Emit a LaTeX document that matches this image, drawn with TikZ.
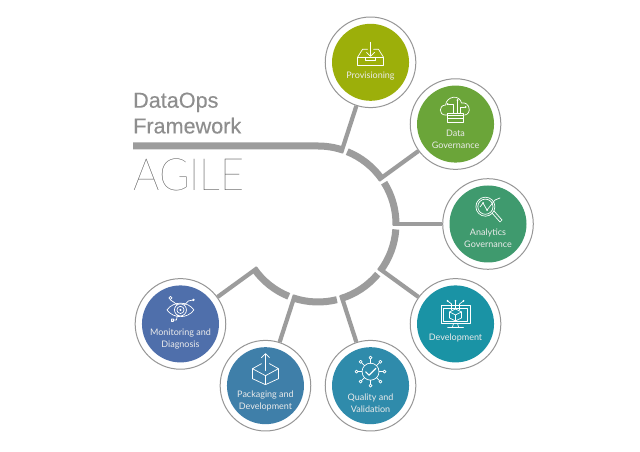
\documentclass[tikz,border=0pt]{standalone}
\usepackage{fontspec}
\setmainfont{Lato}
\newfontfamily\headfont[FakeBold=0.25]{Liberation Sans}
\newfontfamily\agilefont{Lato Hairline}
\newfontfamily\labelfont{Lato}
\usetikzlibrary{calc}
\definecolor{barcol}{HTML}{9C9C9C}
\definecolor{ringcol}{HTML}{969696}
\definecolor{headcol}{HTML}{8E8E8E}
\definecolor{colA}{HTML}{9CAF0A}
\definecolor{colB}{HTML}{6BA539}
\definecolor{colC}{HTML}{3F9A6E}
\definecolor{colD}{HTML}{1A93A5}
\definecolor{colE}{HTML}{2F8BAB}
\definecolor{colF}{HTML}{3F7FA9}
\definecolor{colG}{HTML}{4F6FAB}
\tikzset{
  arcline/.style={draw=barcol,line width=7pt},
  spoke/.style={draw=barcol,line width=4.2pt},
  ring/.style={circle,draw=ringcol,line width=1pt,fill=white,minimum size=90.6pt,inner sep=0pt},
  disc/.style={circle,fill=#1,minimum size=77pt,inner sep=0pt},
  stationtext/.style={text=white!92!black,font=\labelfont\fontsize{9}{11.6}\selectfont,align=center,inner sep=0pt},
  iconline/.style={draw=white,line width=0.7pt,line join=round,line cap=round,fill=none},
  head/.style={text=headcol,font=\headfont\fontsize{21.6}{25}\selectfont,anchor=base west,inner sep=0pt},
  iconprov/.pic={
    \draw[iconline] (-13,-3) rectangle (13,5);
    \draw[iconline] (-13,5) -- (-8,13) -- (-3,13) (13,5) -- (8,13) -- (3,13);
    \draw[iconline] (-5,5) -- (-5,1.5) -- (5,1.5) -- (5,5);
    \draw[iconline] (0,20) -- (0,6) (-4,10) -- (0,6) -- (4,10);
  },
  icongov/.pic={
    \draw[iconline] (-8,9) -- (-10,9) .. controls (-17,9) and (-17,19) .. (-10,19) .. controls (-9,28) and (4,30) .. (6,21) .. controls (14,23) and (17,10) .. (9,9);
    \draw[iconline] (-8,2) rectangle (8,5.5) (-8,5.5) rectangle (8,9) (-8,9) rectangle (8,11);
    \draw[iconline] (-2,11) -- (-2,20) -- (-7,20) (2,11) -- (2,23) (5,11) -- (5,17) -- (9,17);
    \fill[white] (-8,20) circle (1.1) (2,24) circle (1.1) (10,17) circle (1.1);
  },
  iconana/.pic={
    \draw[iconline] (-2.6,17.3) circle (9.5) (-2.6,17.3) circle (7.6);
    \draw[iconline] (-8,17) -- (-5,21) -- (-1,14) -- (7,24) -- (12,26);
    \draw[iconline] (4,11) -- (12,2) -- (14,4) -- (6,13);
    \fill[white] (-5,21) circle (1) (-1,14) circle (1);
  },
  icondev/.pic={
    \draw[iconline] (-14.5,0.5) rectangle (14.5,18.5) (-12,3) rectangle (12,16);
    \draw[iconline] (-2,0.5) -- (-3,-3) (2,0.5) -- (3,-3) (-8,-3.5) -- (8,-3.5);
    \draw[iconline,fill=colD] (0,15) -- (6,12) -- (6,6) -- (0,3) -- (-6,6) -- (-6,12) -- cycle;
    \draw[iconline] (-6,12) -- (0,9) -- (6,12) (0,9) -- (0,3);
    \draw[iconline] (0,15) -- (0,23) (-4,14) -- (-4,20) -- (-8,23) (4,14) -- (4,20) -- (8,23);
    \fill[white] (0,23) circle (1) (-8,23) circle (1) (8,23) circle (1);
  },
  iconqual/.pic={
    \draw[iconline] (0,14) circle (8.5);
    \foreach \a in {0,45,...,315}{
      \draw[iconline] ($(0,14)+(\a:8.5)$) -- ($(0,14)+(\a:12.5)$);
      \draw[iconline] ($(0,14)+(\a:14)$) circle (1.5);
    }
    \draw[white,line width=1.2pt,line join=round] (-5,14) -- (-1.5,10.5) -- (5.5,17.5);
  },
  iconpack/.pic={
    \draw[iconline] (-4,22) -- (-13,17) -- (0,10) -- (13,17) -- (4,22);
    \draw[iconline] (-13,17) -- (-13,7) -- (0,1) -- (13,7) -- (13,17) (0,10) -- (0,1);
    \draw[iconline] (0,15) -- (0,32) (-4,28) -- (0,32) -- (4,28);
  },
  iconmon/.pic={
    \draw[iconline] (-13.5,14) .. controls (-7,23) and (7,23) .. (13.5,14) .. controls (7,5) and (-7,5) .. cycle;
    \draw[iconline] (0,14) circle (6) (0,14) circle (3.6);
    \fill[white] (0,14) circle (1.2);
    \draw[iconline] (-3,19) -- (-7,22) -- (-10,24) (4,19) -- (8,23) -- (13,24) (-3,9) -- (-4,4) -- (-9,4);
    \draw[iconline] (-10,26) circle (1.6) (-9,2.5) rectangle (-7,5);
    \fill[white] (13,24) circle (1.3);
  }
}
\begin{document}
\begin{tikzpicture}[x=1pt,y=1pt]
\path[use as bounding box,fill=white] (0,0) rectangle (640,452);
\coordinate (hub) at (318,228);
\node[ring] (c1) at ($(hub)+(72:170)$) {};
\node[ring] (c2) at ($(hub)+(36:170)$) {};
\node[ring] (c3) at ($(hub)+(0:170)$) {};
\node[ring] (c4) at ($(hub)+(-36:170)$) {};
\node[ring] (c5) at ($(hub)+(-72:170)$) {};
\node[ring] (c6) at ($(hub)+(-108:170)$) {};
\node[ring] (c7) at ($(hub)+(-144:170)$) {};
\node[disc=colA] (d1) at (c1) {};
\node[disc=colB] (d2) at (c2) {};
\node[disc=colC] (d3) at (c3) {};
\node[disc=colD] (d4) at (c4) {};
\node[disc=colE] (d5) at (c5) {};
\node[disc=colF] (d6) at (c6) {};
\node[disc=colG] (d7) at (c7) {};
\coordinate (j1) at ($(hub)+(72:75)$);
\coordinate (j2) at ($(hub)+(36:75)$);
\coordinate (j3) at ($(hub)+(0:75)$);
\coordinate (j4) at ($(hub)+(-36:75)$);
\coordinate (j5) at ($(hub)+(-72:75)$);
\coordinate (j6) at ($(hub)+(-108:75)$);
\coordinate (j7) at ($(hub)+(-144:75)$);
\coordinate (barstart) at (133,306);
\draw[arcline] (barstart) -- (318,306) arc (90:71:78);
\draw[arcline] ($(hub)+(68:78)$) arc (68:35:78);
\draw[arcline] ($(hub)+(32:78)$) arc (32:-1:78);
\draw[arcline] ($(hub)+(-4:78)$) arc (-4:-37:78);
\draw[arcline] ($(hub)+(-40:78)$) arc (-40:-73:78);
\draw[arcline] ($(hub)+(-76:78)$) arc (-76:-109:78);
\draw[arcline] ($(hub)+(-112:78)$) arc (-112:-145:78);
\draw[spoke] (j1) -- (c1);
\draw[spoke] (j2) -- (c2);
\draw[spoke] (j3) -- (c3);
\draw[spoke] (j4) -- (c4);
\draw[spoke] (j5) -- (c5);
\draw[spoke] (j6) -- (c6);
\draw[spoke] (j7) -- (c7);
\node[head] (t1) at (133,344.3) {DataOps};
\node[head] (t2) at (133,318.6) {Framework};
\node[anchor=base west,inner sep=0pt,text=black!75,xscale=0.9,yscale=0.97,font=\agilefont\fontsize{46}{46}\selectfont] (t3) at (133,261) {AGILE};
\pic at (c1) {iconprov};
\pic at (c2) {icongov};
\pic at (c3) {iconana};
\pic at (c4) {icondev};
\pic at (c5) {iconqual};
\pic at (c6) {iconpack};
\pic at (c7) {iconmon};
\node[stationtext] (l1) at ($(c1)+(0,-14)$) {Provisioning};
\node[stationtext] (l2) at ($(c2)+(0,-15.5)$) {Data\\Governance};
\node[stationtext] (l3) at ($(c3)+(0,-14.5)$) {Analytics\\Governance};
\node[stationtext] (l4) at ($(c4)+(0,-14.4)$) {Development};
\node[stationtext] (l5) at ($(c5)+(0,-17.6)$) {Quality and\\Validation};
\node[stationtext] (l6) at ($(c6)+(0,-15)$) {Packaging and\\Development};
\node[stationtext] (l7) at ($(c7)+(0,-15)$) {Monitoring and\\Diagnosis};
\end{tikzpicture}
\end{document}
